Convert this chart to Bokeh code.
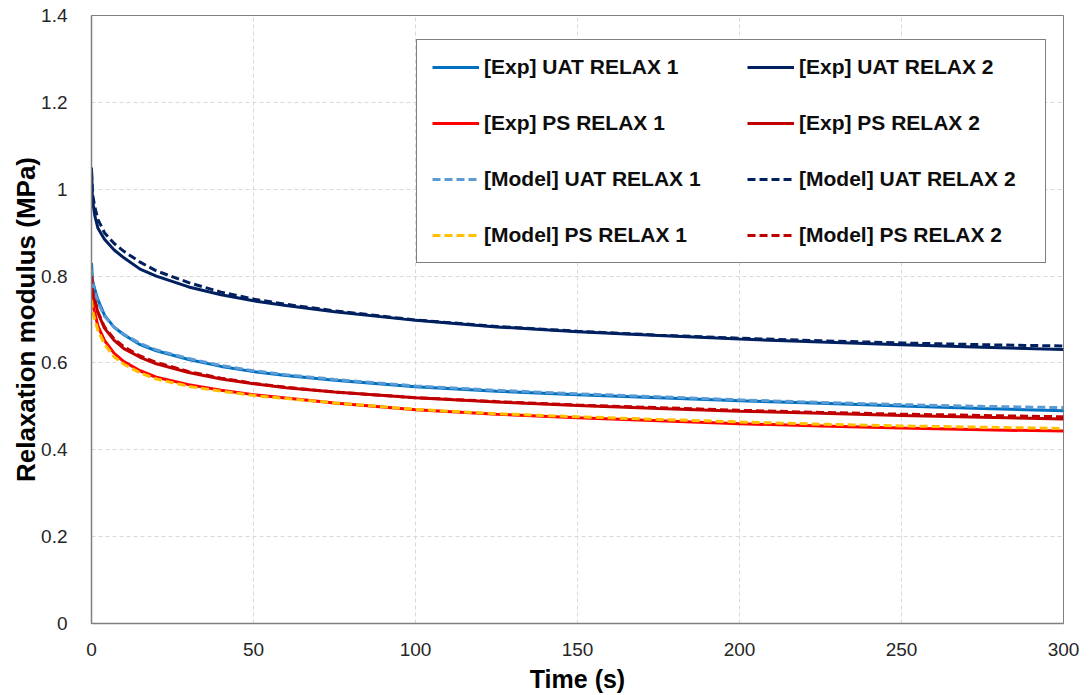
from bokeh.plotting import figure
from bokeh.models import Legend, LegendItem, FixedTicker, NumeralTickFormatter, Range1d
from bokeh.embed import file_html
from bokeh.resources import INLINE

# ---- data ----
time_s = [0, 0.3, 1, 2, 4, 7, 10, 15, 20, 30, 40, 50, 60, 75, 100, 125, 150, 175, 200, 225, 250, 275, 300]

exp_uat1 = [0.83, 0.79, 0.77, 0.745, 0.71, 0.682, 0.665, 0.642, 0.628, 0.608, 0.592, 0.58, 0.571, 0.56, 0.545, 0.535, 0.527, 0.52, 0.513, 0.507, 0.501, 0.495, 0.49]
exp_uat2 = [1.05, 0.975, 0.94, 0.91, 0.885, 0.86, 0.842, 0.816, 0.80, 0.775, 0.757, 0.743, 0.732, 0.718, 0.698, 0.683, 0.672, 0.663, 0.655, 0.648, 0.642, 0.636, 0.631]
exp_ps1 = [0.79, 0.74, 0.715, 0.685, 0.652, 0.622, 0.603, 0.582, 0.567, 0.55, 0.537, 0.527, 0.519, 0.508, 0.492, 0.482, 0.474, 0.467, 0.46, 0.455, 0.45, 0.446, 0.443]
exp_ps2 = [0.81, 0.765, 0.745, 0.715, 0.68, 0.652, 0.633, 0.613, 0.598, 0.578, 0.563, 0.552, 0.543, 0.533, 0.52, 0.51, 0.502, 0.495, 0.489, 0.484, 0.479, 0.475, 0.471]
model_uat1 = [0.815, 0.785, 0.765, 0.74, 0.708, 0.682, 0.666, 0.645, 0.63, 0.61, 0.594, 0.582, 0.573, 0.562, 0.547, 0.537, 0.529, 0.522, 0.515, 0.509, 0.504, 0.5, 0.497]
model_uat2 = [1.04, 0.99, 0.96, 0.93, 0.90, 0.875, 0.857, 0.832, 0.812, 0.785, 0.763, 0.747, 0.735, 0.72, 0.699, 0.684, 0.673, 0.664, 0.657, 0.651, 0.646, 0.642, 0.639]
model_ps1 = [0.745, 0.72, 0.70, 0.675, 0.643, 0.614, 0.597, 0.577, 0.563, 0.546, 0.535, 0.525, 0.518, 0.508, 0.493, 0.483, 0.476, 0.47, 0.464, 0.459, 0.455, 0.452, 0.449]
model_ps2 = [0.80, 0.765, 0.745, 0.717, 0.683, 0.655, 0.637, 0.616, 0.601, 0.58, 0.565, 0.553, 0.544, 0.533, 0.52, 0.511, 0.503, 0.497, 0.491, 0.486, 0.482, 0.479, 0.476]

x_ticks = [0, 50, 100, 150, 200, 250, 300]
y_ticks = [0, 0.2, 0.4, 0.6, 0.8, 1.0, 1.2, 1.4]

FONT = "Liberation Sans"

p = figure(width=1090, height=695, output_backend="svg", toolbar_location=None,
           x_range=Range1d(0, 300), y_range=Range1d(0, 1.4),
           min_border_left=91, min_border_right=27, min_border_top=15, min_border_bottom=71)
p.background_fill_color = "white"
p.border_fill_color = "white"
p.outline_line_color = "#7f7f7f"
p.outline_line_width = 1

for ax in (p.xaxis[0], p.yaxis[0]):
    ax.axis_line_color = "#7f7f7f"
    ax.axis_line_width = 1.5
    ax.major_tick_line_color = None
    ax.minor_tick_line_color = None
    ax.major_label_text_font = FONT
    ax.major_label_text_font_size = "19px"
    ax.major_label_text_color = "#262626"
    ax.axis_label_text_font = FONT
    ax.axis_label_text_font_style = "bold"
    ax.axis_label_text_color = "#000000"

p.xaxis.axis_label_text_font_size = "25px"
p.yaxis.axis_label_text_font_size = "26px"
p.xaxis.ticker = FixedTicker(ticks=x_ticks)
p.yaxis.ticker = FixedTicker(ticks=y_ticks)
p.yaxis.formatter = NumeralTickFormatter(format="0.[0]")
p.xaxis.axis_label = "Time (s)"
p.yaxis.axis_label = "Relaxation modulus (MPa)"
p.xaxis.major_label_standoff = 13
p.yaxis.major_label_standoff = 18
p.xaxis.axis_label_standoff = 6
p.yaxis.axis_label_standoff = -3

for g in (p.xgrid[0], p.ygrid[0]):
    g.grid_line_color = "#d9d9d9"
    g.grid_line_dash = "4 3"
    g.grid_line_width = 1

LW = 3
DASH = "8 4"
r_e1 = p.line(time_s, exp_uat1, line_color="#0070C0", line_width=LW)
r_e2 = p.line(time_s, exp_uat2, line_color="#002060", line_width=LW)
r_e3 = p.line(time_s, exp_ps1, line_color="#FF0000", line_width=LW)
r_e4 = p.line(time_s, exp_ps2, line_color="#C00000", line_width=LW)
r_m1 = p.line(time_s, model_uat1, line_color="#5B9BD5", line_width=LW, line_dash=DASH)
r_m2 = p.line(time_s, model_uat2, line_color="#002060", line_width=LW, line_dash=DASH)
r_m3 = p.line(time_s, model_ps1, line_color="#FFC000", line_width=LW, line_dash=DASH)
r_m4 = p.line(time_s, model_ps2, line_color="#C00000", line_width=LW, line_dash=DASH)

# Bokeh fills legend columns first: left column, then right column
items = [
    LegendItem(label="[Exp] UAT RELAX 1", renderers=[r_e1]),
    LegendItem(label="[Exp] PS RELAX 1", renderers=[r_e3]),
    LegendItem(label="[Model] UAT RELAX 1", renderers=[r_m1]),
    LegendItem(label="[Model] PS RELAX 1", renderers=[r_m3]),
    LegendItem(label="[Exp] UAT RELAX 2", renderers=[r_e2]),
    LegendItem(label="[Exp] PS RELAX 2", renderers=[r_e4]),
    LegendItem(label="[Model] UAT RELAX 2", renderers=[r_m2]),
    LegendItem(label="[Model] PS RELAX 2", renderers=[r_m4]),
]
legend = Legend(items=items, ncols=2, location=(325, 360), margin=0,
                border_line_color="black", border_line_width=1,
                background_fill_color="white", background_fill_alpha=1,
                label_text_font=FONT, label_text_font_style="bold",
                label_text_font_size="21px", label_text_color="#0d0d0d",
                glyph_width=47, glyph_height=24, label_standoff=5,
                label_height=24, label_width=231, spacing=32, padding=15)
p.add_layout(legend, "center")

open("out.html", "w").write(file_html(p, INLINE))
